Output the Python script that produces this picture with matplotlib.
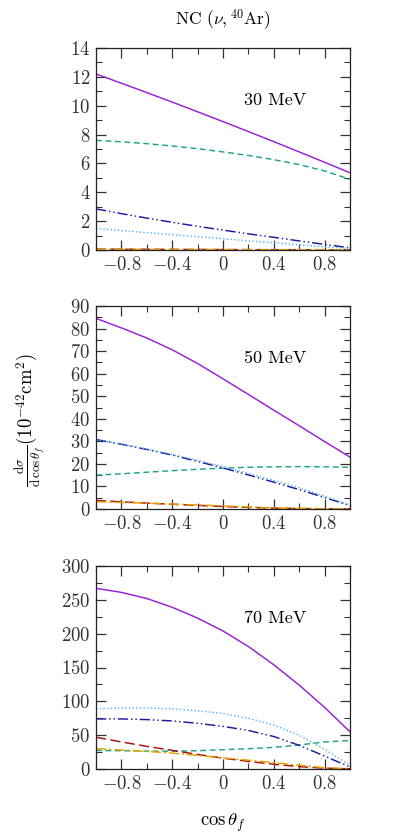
import matplotlib
matplotlib.use("Agg")
import matplotlib.pyplot as plt
from matplotlib.ticker import MultipleLocator, FixedLocator, FixedFormatter

plt.rcParams['font.family'] = 'serif'
plt.rcParams['font.serif'] = ['cmr10', 'DejaVu Serif']
plt.rcParams['mathtext.fontset'] = 'cm'
plt.rcParams['axes.unicode_minus'] = False

cos_theta = [-1.0, -0.8, -0.6, -0.4, -0.2, 0.0, 0.2, 0.4, 0.6, 0.8, 1.0]
energies = ["30 MeV", "50 MeV", "70 MeV"]

# 30 MeV
e30_solid = [12.2, 11.56, 10.91, 10.25, 9.58, 8.9, 8.21, 7.51, 6.8, 6.08, 5.35]
e30_dashed = [7.6, 7.5, 7.37, 7.21, 7.02, 6.8, 6.55, 6.26, 5.92, 5.48, 4.9]
e30_dashdotdot = [2.85, 2.52, 2.21, 1.92, 1.64, 1.38, 1.12, 0.88, 0.63, 0.39, 0.15]
e30_dotted = [1.5, 1.35, 1.2, 1.06, 0.92, 0.78, 0.64, 0.5, 0.36, 0.22, 0.1]
e30_longdash = [0.06, 0.05, 0.05, 0.04, 0.04, 0.03, 0.03, 0.02, 0.02, 0.01, 0.01]
e30_dashdot = [0.05, 0.05, 0.04, 0.04, 0.03, 0.03, 0.02, 0.02, 0.01, 0.01, 0.01]

# 50 MeV
e50_solid = [84.5, 80.3, 75.8, 70.6, 64.5, 57.7, 50.8, 43.8, 36.9, 29.9, 23.0]
e50_dashed = [15.0, 15.6, 16.3, 17.0, 17.6, 18.1, 18.5, 18.7, 18.8, 18.7, 18.5]
e50_dashdotdot = [30.8, 28.7, 26.4, 23.9, 21.1, 18.2, 15.1, 11.9, 8.6, 5.1, 1.5]
e50_dotted = [30.8, 28.8, 26.6, 24.2, 21.6, 18.8, 15.8, 12.7, 9.4, 5.7, 1.8]
e50_longdash = [3.8, 3.2, 2.6, 2.1, 1.6, 1.1, 0.7, 0.4, 0.2, 0.1, 0.05]
e50_dashdot = [3.2, 2.9, 2.6, 2.2, 1.8, 1.4, 0.9, 0.5, 0.3, 0.15, 0.1]

# 70 MeV
e70_solid = [267, 261, 252, 239, 223, 204, 181, 154, 124, 91, 55]
e70_dashed = [27.5, 27, 26.5, 26.3, 27, 28.5, 30, 32, 35.5, 40, 42]
e70_dashdotdot = [74, 74, 73, 71, 67.5, 63, 57, 48, 35, 19, 3]
e70_dotted = [89, 90, 90, 89, 86, 82, 75, 65, 50, 29, 6]
e70_longdash = [47, 40, 33.5, 27.5, 21.5, 16, 11.2, 7, 3.5, 1.2, 0.3]
e70_dashdot = [30, 28, 26, 23.5, 20, 16.5, 13, 9.5, 5.5, 2, 0.3]

panels = [
    (e30_solid, e30_dashed, e30_dashdotdot, e30_dotted, e30_longdash, e30_dashdot),
    (e50_solid, e50_dashed, e50_dashdotdot, e50_dotted, e50_longdash, e50_dashdot),
    (e70_solid, e70_dashed, e70_dashdotdot, e70_dotted, e70_longdash, e70_dashdot),
]
ylims = [(0, 14), (0, 90), (0, 300)]
ymajor = [2, 10, 50]
yminor = [1, 5, 25]

styles = [
    dict(color='#9a1fd6', ls='-'),
    dict(color='#1fa583', ls=(0, (4, 2.5))),
    dict(color='#1a1aa0', ls=(0, (7, 2, 1, 2, 1, 2))),
    dict(color='#5ab8ef', ls=(0, (1, 1.5))),
    dict(color='#a50f0f', ls=(0, (7, 3))),
    dict(color='#e8a200', ls=(0, (7, 2, 1.5, 2))),
]

W, H = 394, 834
fig = plt.figure(figsize=(W / 100, H / 100), dpi=100)

boxes = [(48, 250), (306, 509), (566, 769)]
left, right = 96, 350
xticks = [-0.8, -0.4, 0.0, 0.4, 0.8]
xticklabels = [r'$-0.8$', r'$-0.4$', r'$0$', r'$0.4$', r'$0.8$']

for i, (top, bot) in enumerate(boxes):
    ax = fig.add_axes([left / W, 1 - bot / H, (right - left) / W, (bot - top) / H])
    for series, st in zip(panels[i], styles):
        ax.plot(cos_theta, series, lw=1.05, **st)
    ax.set_xlim(-1, 1)
    ax.set_ylim(*ylims[i])
    ax.xaxis.set_major_locator(FixedLocator(xticks))
    ax.xaxis.set_major_formatter(FixedFormatter(xticklabels))
    ax.xaxis.set_minor_locator(MultipleLocator(0.2))
    yt = list(range(ylims[i][0], ylims[i][1] + 1, ymajor[i]))
    ax.yaxis.set_major_locator(FixedLocator(yt))
    ax.yaxis.set_major_formatter(FixedFormatter([r'$%d$' % v for v in yt]))
    ax.yaxis.set_minor_locator(MultipleLocator(yminor[i]))
    ax.tick_params(which='both', direction='in', top=True, right=True, labelsize=13.5, colors='#333333', pad=4)
    ax.tick_params(which='major', length=7, width=0.9)
    ax.tick_params(which='minor', length=4, width=0.8)
    for sp in ax.spines.values():
        sp.set_linewidth(0.9)
        sp.set_color('#222222')
    ax.text(0.705, 0.74, energies[i], transform=ax.transAxes, ha='center', va='center', fontsize=13)
    if i == 2:
        ax.set_xlabel(r'$\cos\theta_f$', fontsize=13.5, labelpad=14)

fig.text(223 / W, 1 - 20 / H, r'NC $(\nu,^{40}\mathrm{Ar})$', ha='center', va='center', fontsize=12.5)
fig.text(30 / W, 1 - 420 / H, r'$\frac{\mathrm{d}\sigma}{\mathrm{d}\,\cos\theta_f}(10^{-42}\mathrm{cm}^2)$',
         rotation=90, ha='center', va='center', fontsize=13.5)

fig.savefig('out.png', dpi=100)
